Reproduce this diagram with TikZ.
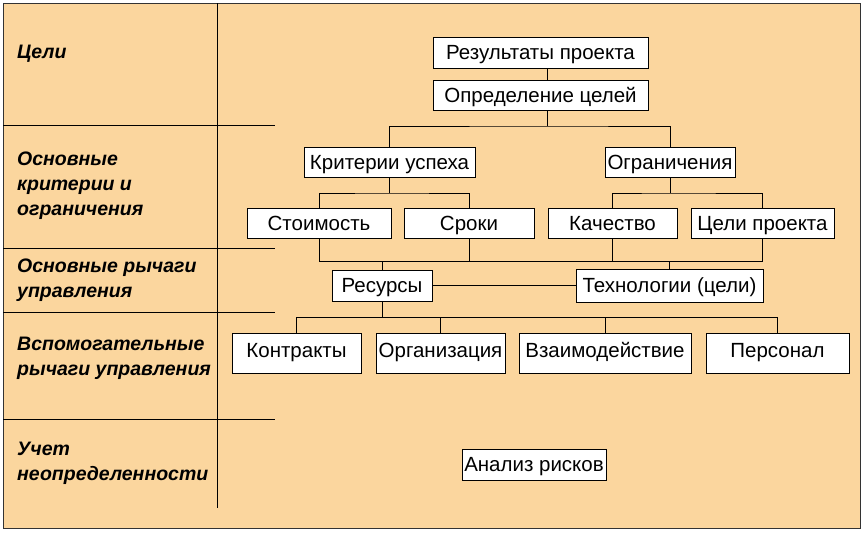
\documentclass[tikz,border=0pt]{standalone}
\usepackage{fontspec}
\setmainfont{Liberation Sans}
\usetikzlibrary{positioning}

\definecolor{panel}{RGB}{251,214,158}

\tikzset{
  item/.style={draw=black, fill=white, line width=0.9pt, minimum height=30pt, inner sep=0pt, text height=15pt, text depth=1pt, font=\fontsize{20.5}{24}\selectfont},
  tallitem/.style={item, minimum height=40pt, text depth=7pt},
  level/.style={anchor=base west, align=left, inner sep=0pt, font=\fontsize{19.5}{25}\selectfont\bfseries\itshape},
  rule/.style={line width=1pt},
  link/.style={line width=0.9pt}
}

\begin{document}
\begin{tikzpicture}[x=1pt, y=-1pt]

        \useasboundingbox (0,0) rectangle (865,533);
        \fill[white] (0,0) rectangle (865,533);
        % Outer frame and the left column
        \draw[rule, fill=panel, draw=black!80] (3,3) rectangle (860,528);
        \draw[rule] (217,3) -- (217,508);
        \draw[rule] (3,125) -- (275,125);
        \draw[rule] (3,248) -- (275,248);
        \draw[rule] (3,312) -- (275,312);
        \draw[rule] (3,419) -- (275,419);

        % Levels on the left (base is the last line)
        \node[level] (lgoals) at (17,58) {Цели};
        \node[level] (lcrit) at (17,215) {Основные\\критерии и\\ограничения};
        \node[level] (lmain) at (17,297) {Основные рычаги\\управления};
        \node[level] (laux) at (17,375) {Вспомогательные\\рычаги управления};
        \node[level] (lrisk) at (17,480) {Учет\\неопределенности};

        % Boxes of the tree
        \node[item, minimum width=215pt, minimum height=31pt] (result) at (540.5,52.5) {Результаты проекта};
        \node[item, minimum width=215pt] (goal) at (540.5,95) {Определение целей};

        \node[item, minimum width=171pt] (crit) at (389.5,162) {Критерии успеха};
        \node[item, minimum width=130pt] (limit) at (670,162) {Ограничения};

        \node[item, minimum width=144pt] (cost) at (319,223) {Стоимость};
        \node[item, minimum width=130pt] (time) at (469,223) {Сроки};
        \node[item, minimum width=129pt] (qual) at (612.5,223) {Качество};
        \node[item, minimum width=143pt] (aims) at (762.5,223) {Цели проекта};

        \node[item, minimum width=100pt, minimum height=31pt] (resrc) at (382,285.5) {Ресурсы};
        \node[item, minimum width=187pt, minimum height=33pt] (tech) at (669.5,285.5) {Технологии (цели)};

        \node[tallitem, minimum width=129pt] (contr) at (296.5,353) {Контракты};
        \node[tallitem, minimum width=129pt] (org) at (440.5,353) {Организация};
        \node[tallitem, minimum width=172pt] (inter) at (605,353) {Взаимодействие};
        \node[tallitem, minimum width=143pt] (staff) at (777.5,353) {Персонал};

        \node[item, minimum width=144pt, minimum height=31pt] (risk) at (534,464.5) {Анализ рисков};

        % Connectors
        \draw[link] ([xshift=7pt]result.south) -- ([xshift=7pt]goal.north);

        \coordinate (bus1) at (547.5,126);
        \draw[link] ([xshift=7pt]goal.south) -- (bus1);
        \draw[link] (crit.north) |- (bus1) -| (limit.north);

        \coordinate (bus2) at (389.5,193);
        \draw[link] (crit.south) -- (bus2);
        \draw[link] (cost.north) |- (bus2) -| (time.north);

        \coordinate (bus3) at (670,193);
        \draw[link] (limit.south) -- (bus3);
        \draw[link] (qual.north) |- (bus3) -| (aims.north);

        \coordinate (bus4) at (0,261);
        \draw[link] (cost.south) |- (aims.south |- bus4) -- (aims.south);
        \draw[link] (time.south) -- (time.south |- bus4);
        \draw[link] (qual.south) -- (qual.south |- bus4);
        \draw[link] (resrc.north) -- (resrc.north |- bus4);
        \draw[link] (tech.north) -- (tech.north |- bus4);
        \draw[link] (resrc.east) -- (tech.west);

        \coordinate (bus5) at (0,317);
        \draw[link] (resrc.south) -- (resrc.south |- bus5);
        \draw[link] (contr.north) |- (staff.north |- bus5) -- (staff.north);
        \draw[link] (org.north) -- (org.north |- bus5);
        \draw[link] (inter.north) -- (inter.north |- bus5);

\end{tikzpicture}
\end{document}
